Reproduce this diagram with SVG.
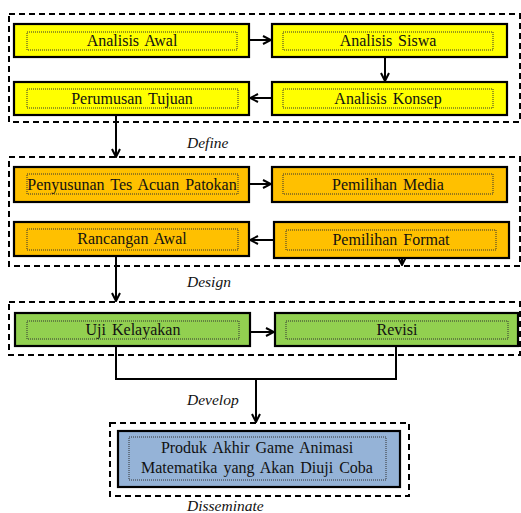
<svg xmlns="http://www.w3.org/2000/svg" width="521" height="513" viewBox="0 0 521 513">
<style>
.stage{fill:none;stroke:#000;stroke-width:2;stroke-dasharray:6 4}
.box{stroke:#000;stroke-width:2.2}
.inner{fill:none;stroke:#333;stroke-width:1;stroke-dasharray:1 1}
.y{fill:#FFFF00}.o{fill:#FFC000}.g{fill:#92D050}.b{fill:#95B3D7}
.t{font-family:"Liberation Serif","Times New Roman",serif;font-size:16px;fill:#111;text-anchor:middle;word-spacing:2px}
.lbl{font-family:"Liberation Serif","Times New Roman",serif;font-size:15.5px;font-style:italic;fill:#111}
.c{fill:none;stroke:#000;stroke-width:2}
</style>
<defs>
<marker id="ah" viewBox="0 0 10 10" refX="9" refY="5" markerWidth="10" markerHeight="10" markerUnits="userSpaceOnUse" orient="auto">
<path d="M1,1 L9,5 L1,9" fill="none" stroke="#000" stroke-width="2"/>
</marker>
</defs>

<g id="stages">
<rect class="stage" x="9" y="14" width="511" height="108"/>
<rect class="stage" x="9" y="157" width="511" height="109"/>
<rect class="stage" x="9" y="302" width="511" height="53"/>
<rect class="stage" x="110" y="423" width="299" height="73"/>
<text class="lbl" x="187" y="148">Define</text>
<text class="lbl" x="187" y="287">Design</text>
<text class="lbl" x="187" y="405">Develop</text>
<text class="lbl" x="187" y="511">Disseminate</text>
</g>

<g id="connectors">
<line class="c" x1="249" y1="40" x2="271" y2="40" marker-end="url(#ah)"/>
<line class="c" x1="385" y1="57" x2="385" y2="81" marker-end="url(#ah)"/>
<line class="c" x1="272" y1="98" x2="250" y2="98" marker-end="url(#ah)"/>
<line class="c" x1="116" y1="115" x2="116" y2="157" marker-end="url(#ah)"/>
<line class="c" x1="249" y1="184" x2="271" y2="184" marker-end="url(#ah)"/>
<line class="c" x1="274" y1="240" x2="250" y2="240" marker-end="url(#ah)"/>
<line class="c" x1="402" y1="258" x2="402" y2="265" marker-end="url(#ah)"/>
<line class="c" x1="116" y1="256" x2="116" y2="301" marker-end="url(#ah)"/>
<line class="c" x1="250" y1="332" x2="274" y2="332" marker-end="url(#ah)"/>
<polyline class="c" points="116,346 116,379 396,379 396,346"/>
<line class="c" x1="256" y1="379" x2="256" y2="422" marker-end="url(#ah)"/>
</g>

<g id="analisis-awal">
<rect class="box y" x="14" y="24" width="235" height="33"/>
<rect class="inner" x="27" y="32" width="210" height="18"/>
<text class="t" x="132" y="46">Analisis Awal</text>
</g>
<g id="analisis-siswa">
<rect class="box y" x="272" y="24" width="235" height="33"/>
<rect class="inner" x="283" y="32" width="210" height="18"/>
<text class="t" x="388" y="46">Analisis Siswa</text>
</g>
<g id="perumusan-tujuan">
<rect class="box y" x="14" y="82" width="235" height="33"/>
<rect class="inner" x="27" y="89" width="211" height="19"/>
<text class="t" x="132" y="104">Perumusan Tujuan</text>
</g>
<g id="analisis-konsep">
<rect class="box y" x="272" y="82" width="235" height="33"/>
<rect class="inner" x="283" y="89" width="210" height="19"/>
<text class="t" x="388" y="104">Analisis Konsep</text>
</g>

<g id="penyusunan-tes">
<rect class="box o" x="14" y="167" width="235" height="35"/>
<rect class="inner" x="27" y="174" width="211" height="20"/>
<text class="t" x="132" y="190">Penyusunan Tes Acuan Patokan</text>
</g>
<g id="pemilihan-media">
<rect class="box o" x="272" y="167" width="235" height="35"/>
<rect class="inner" x="283" y="174" width="210" height="20"/>
<text class="t" x="388" y="190">Pemilihan Media</text>
</g>
<g id="rancangan-awal">
<rect class="box o" x="14" y="222" width="235" height="34"/>
<rect class="inner" x="27" y="229" width="211" height="21"/>
<text class="t" x="132" y="244">Rancangan Awal</text>
</g>
<g id="pemilihan-format">
<rect class="box o" x="274" y="222" width="235" height="36"/>
<rect class="inner" x="286" y="230" width="210" height="20"/>
<text class="t" x="391" y="245">Pemilihan Format</text>
</g>

<g id="uji-kelayakan">
<rect class="box g" x="15" y="313" width="235" height="33"/>
<rect class="inner" x="27" y="321" width="212" height="18"/>
<text class="t" x="133" y="335">Uji Kelayakan</text>
</g>
<g id="revisi">
<rect class="box g" x="275" y="313" width="243" height="33"/>
<rect class="inner" x="286" y="321" width="222" height="18"/>
<text class="t" x="397" y="335">Revisi</text>
</g>

<g id="produk-akhir">
<rect class="box b" x="118" y="431" width="282" height="56" stroke-width="3"/>
<rect class="inner" x="129" y="437" width="257" height="43"/>
<text class="t" x="257" y="453">Produk Akhir Game Animasi</text>
<text class="t" x="257" y="473">Matematika yang Akan Diuji Coba</text>
</g>
</svg>
